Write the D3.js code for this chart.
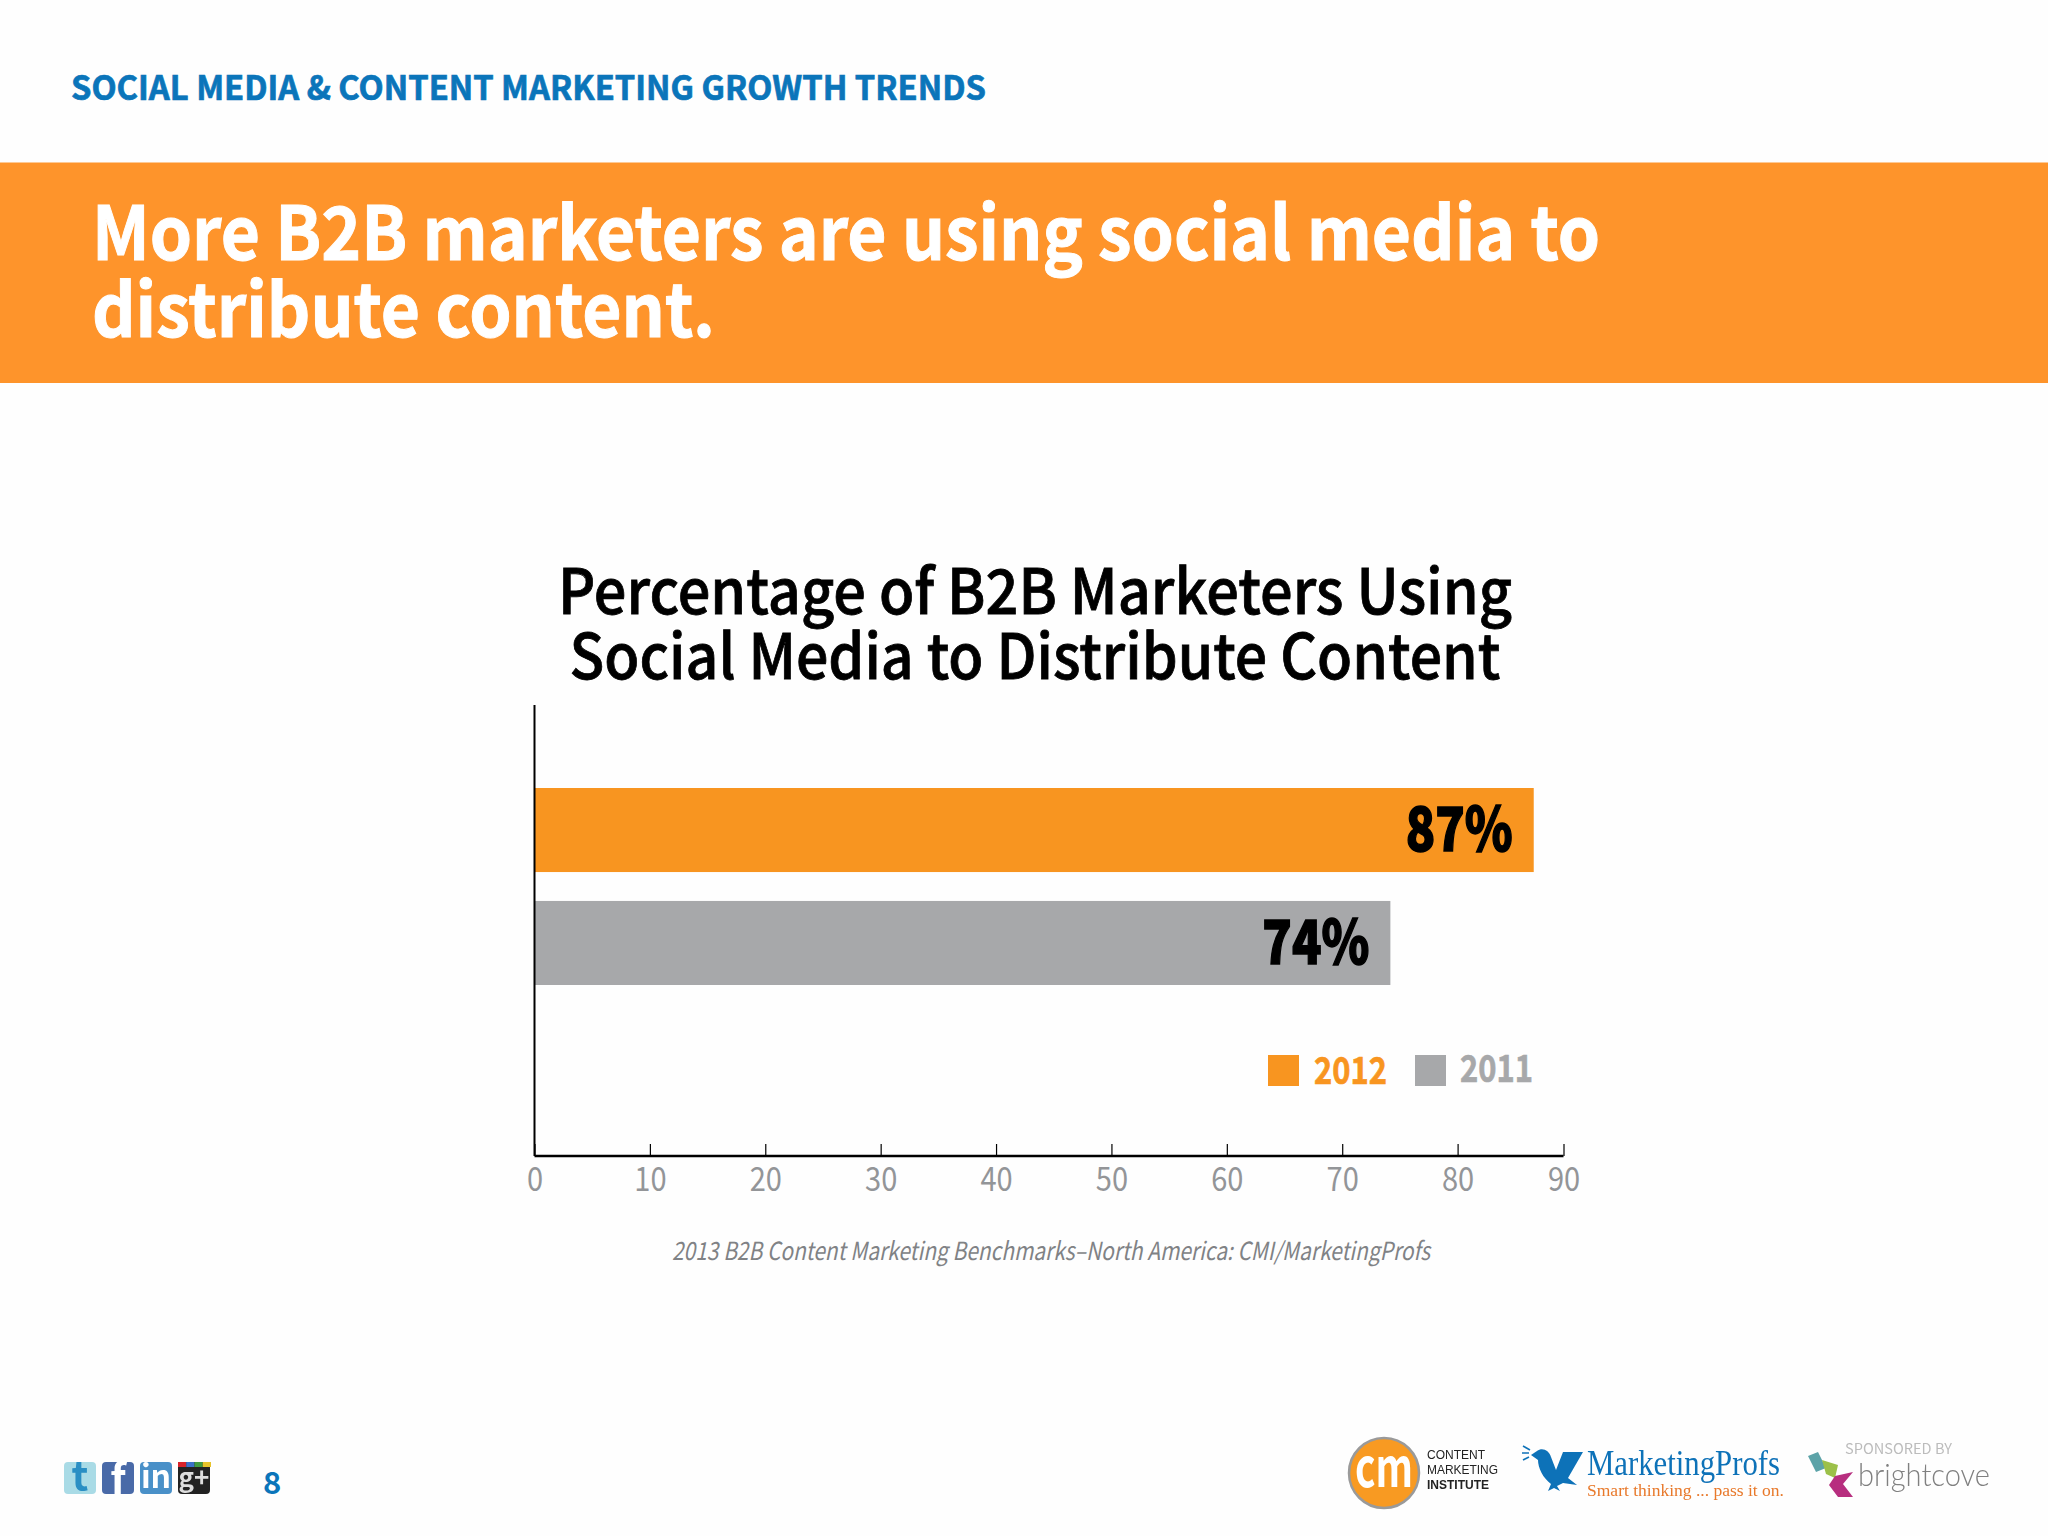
<!DOCTYPE html>
<html><head><meta charset="utf-8">
<style>
html,body{margin:0;padding:0;background:#fefefe}
svg{display:block}
</style>
<script src="https://cdn.jsdelivr.net/npm/d3@7"></script>
</head><body>
<svg id="c" width="2048" height="1536" font-family="'Noto Sans CJK SC','Noto Sans',sans-serif"></svg>
<script>
const years = ["2012","2011"];
const values = [87,74];
const valueLabels = ["87%","74%"];
const barColors = ["#f89520","#a7a8aa"];
const tickValues = [0,10,20,30,40,50,60,70,80,90];
const headline = ["More B2B marketers are using social media to","distribute content."];
const chartTitle = ["Percentage of B2B Marketers Using","Social Media to Distribute Content"];
const kicker = "SOCIAL MEDIA & CONTENT MARKETING GROWTH TRENDS";
const source = "2013 B2B Content Marketing Benchmarks–North America: CMI/MarketingProfs";

const svg = d3.select("#c");
// squeezes a text to a given width, as the reference's face is narrower than the installed one
const fit = (sel,w)=>sel.attr("textLength",w).attr("lengthAdjust","spacingAndGlyphs");
svg.append("defs").append("filter").attr("id","soft")
  .append("feGaussianBlur").attr("stdDeviation",0.6);

svg.append("rect").attr("width",2048).attr("height",1536).attr("fill","#fefefe");
svg.append("text").attr("x",71).attr("y",100).attr("font-size",34).attr("font-weight",700)
  .attr("fill","#0b75ba").attr("stroke","#0b75ba").attr("stroke-width",0.7).text(kicker).call(fit,915);
svg.append("rect").attr("x",0).attr("y",162.5).attr("width",2048).attr("height",220.5).attr("fill","#fe942b");
const hlW=[1508,623];
svg.selectAll(".hl").data(headline).join("text").attr("class","hl")
  .attr("x",92).attr("y",(d,i)=>260+i*77).attr("font-size",74).attr("font-weight",700)
  .attr("fill","#fff").attr("stroke","#fff").attr("stroke-width",1).text(d=>d).each(function(d,i){d3.select(this).call(fit,hlW[i]);});
const ctW=[954,931];
svg.selectAll(".ct").data(chartTitle).join("text").attr("class","ct")
  .attr("x",1035).attr("y",(d,i)=>614+i*65).attr("text-anchor","middle")
  .attr("font-size",62).attr("font-weight",500).attr("fill","#000").attr("stroke","#000").attr("stroke-width",0.8).text(d=>d)
  .each(function(d,i){d3.select(this).call(fit,ctW[i]);});

// the reference's axis is uneven at its last step, so the scale is piecewise
const x = d3.scaleLinear().domain([0,80,90]).range([534.5,1457.6,1563.5]);
const y = d3.scaleBand().domain(years).range([788,985]).paddingInner(0.256);

const plot = svg.append("g");
plot.selectAll(".bar").data(values).join("rect").attr("class","bar")
  .attr("x",x(0)).attr("y",(d,i)=>y(years[i])).attr("width",d=>x(d)-x(0)+2)
  .attr("height",y.bandwidth()).attr("fill",(d,i)=>barColors[i]);
plot.selectAll(".val").data(values).join("text").attr("class","val")
  .attr("x",d=>x(d)-19).attr("y",(d,i)=>y(years[i])+y.bandwidth()/2+21)
  .attr("text-anchor","end").attr("font-size",60).attr("font-weight",900).attr("fill","#000")
  .attr("stroke","#000").attr("stroke-width",1.5)
  .text((d,i)=>valueLabels[i]).call(fit,107);

const axisG = svg.append("g").attr("transform","translate(0,1156)");
axisG.call(d3.axisBottom(x).tickValues(tickValues).tickSize(-12).tickPadding(10).tickFormat(d3.format("d")));
axisG.select(".domain").attr("d",`M${x(0)},0H${x(90)}`).attr("stroke","#000").attr("stroke-width",2.5);
axisG.selectAll(".tick line").attr("stroke","#000").attr("stroke-width",1.2);
axisG.selectAll(".tick text").attr("font-size",33).attr("font-family","'Noto Sans CJK SC'").attr("fill","#939598").attr("dy","0.75em")
  .each(function(){d3.select(this).call(fit,this.getComputedTextLength()*0.88);});
svg.append("line").attr("x1",x(0)).attr("x2",x(0)).attr("y1",705).attr("y2",1156).attr("stroke","#000").attr("stroke-width",2);

// legend
const legX = [1268,1415], legT = [1314,1460], legY=[1084,1082];
const leg = svg.selectAll(".leg").data(years).join("g").attr("class","leg");
leg.append("rect").attr("x",(d,i)=>legX[i]).attr("y",1055).attr("width",31).attr("height",31).attr("fill",(d,i)=>barColors[i]);
leg.append("text").attr("x",(d,i)=>legT[i]).attr("y",(d,i)=>legY[i]).attr("font-size",38).attr("font-weight",700)
  .attr("fill",(d,i)=>barColors[i]).attr("stroke",(d,i)=>barColors[i]).attr("stroke-width",0.7).text(d=>d).call(fit,73);

svg.append("text").attr("x",1051).attr("y",1260).attr("text-anchor","middle").attr("font-size",25)
  .attr("font-style","italic").attr("fill","#808285").text(source).call(fit,758);

// footer: social icons
const icons = svg.append("g").attr("filter","url(#soft)");
const iconX=[64,102,140,178], iconFill=["#a9dbe6","#4a6aa8","#4a90c8","#222"], iconGlyph=["t","f","in","g+"], iconText=["#2a8fc4","#fff","#fff","#ddd"], iconSize=[40,42,32,26], iconY=[1490,1494,1488,1487];
icons.selectAll("rect.ic").data(iconX).join("rect").attr("class","ic").attr("x",d=>d).attr("y",1462)
  .attr("width",32).attr("height",32).attr("rx",4).attr("fill",(d,i)=>iconFill[i]);
icons.selectAll("text.ic").data(iconX).join("text").attr("class","ic").attr("x",d=>d+16).attr("y",(d,i)=>iconY[i])
  .attr("text-anchor","middle").attr("font-size",(d,i)=>iconSize[i]).attr("font-weight",700)
  .attr("fill",(d,i)=>iconText[i]).text((d,i)=>iconGlyph[i]);
[["#d8232a",0],["#3b6fc9",8.25],["#3f9b3f",16.5],["#e8c32a",24.75]].forEach(([c,o])=>
  icons.append("rect").attr("x",178+o).attr("y",1462).attr("width",8.25).attr("height",5).attr("fill",c));
svg.append("text").attr("x",263).attr("y",1494).attr("font-size",31).attr("font-weight",700).attr("fill","#0b75ba").text("8");

// footer: logos
const logos = svg.append("g").attr("filter","url(#soft)");
logos.append("circle").attr("cx",1384).attr("cy",1473).attr("r",35).attr("fill","#f89a22").attr("stroke","#9a9a9a").attr("stroke-width",2.5);
logos.append("text").attr("x",1384).attr("y",1487).attr("text-anchor","middle").attr("font-size",54).attr("font-weight",700)
  .attr("fill","#fff").text("cm").call(fit,58);
const cmW=[58,71,62];
["CONTENT","MARKETING","INSTITUTE"].forEach((t,i)=>
  logos.append("text").attr("x",1427).attr("y",[1459,1474,1489][i]).attr("font-size",13.5)
   .attr("font-family","Liberation Sans").attr("font-weight",i==2?700:400).attr("fill","#222").text(t).call(fit,cmW[i]));
// bird
logos.append("path").attr("fill","#1072b8")
  .attr("d","M1531,1455 L1537,1451 C1542,1447 1549,1450 1551,1457 L1556,1470 L1563,1452 L1583,1452 L1568,1478 L1577,1485 L1563,1483 L1557,1486 L1560,1491 L1554,1488 L1548,1491 L1551,1484 C1543,1478 1538,1468 1538,1460 Z");
logos.append("path").attr("stroke","#1072b8").attr("stroke-width",1.6).attr("fill","none")
  .attr("d","M1523,1446 L1530,1450 M1522,1453 L1529,1453 M1523,1460 L1529,1457");
logos.append("text").attr("x",1587).attr("y",1475).attr("font-family","Liberation Serif").attr("font-size",35).attr("fill","#1072b8").text("MarketingProfs").call(fit,193);
logos.append("text").attr("x",1587).attr("y",1496).attr("font-family","Liberation Serif").attr("font-size",17).attr("fill","#e8792b").text("Smart thinking ... pass it on.").call(fit,197);
logos.append("text").attr("x",1845).attr("y",1454).attr("font-size",14).attr("fill","#bcbcbc").text("SPONSORED BY").call(fit,107);
logos.append("text").attr("x",1858).attr("y",1486).attr("font-family","Lato").attr("font-weight",300).attr("font-size",31).attr("fill","#808080").text("brightcove").call(fit,132);
[["#5ba3a8","1808,1456 1818,1452 1826,1468 1816,1472"],["#9cc04a","1822,1460 1838,1465 1835,1478 1826,1474"],["#b72f7f","1835,1476 1853,1472 1843,1484 1853,1497 1838,1497 1829,1485"]].forEach(([c,p])=>
  logos.append("polygon").attr("points",p).attr("fill",c));
</script>
</body></html>
